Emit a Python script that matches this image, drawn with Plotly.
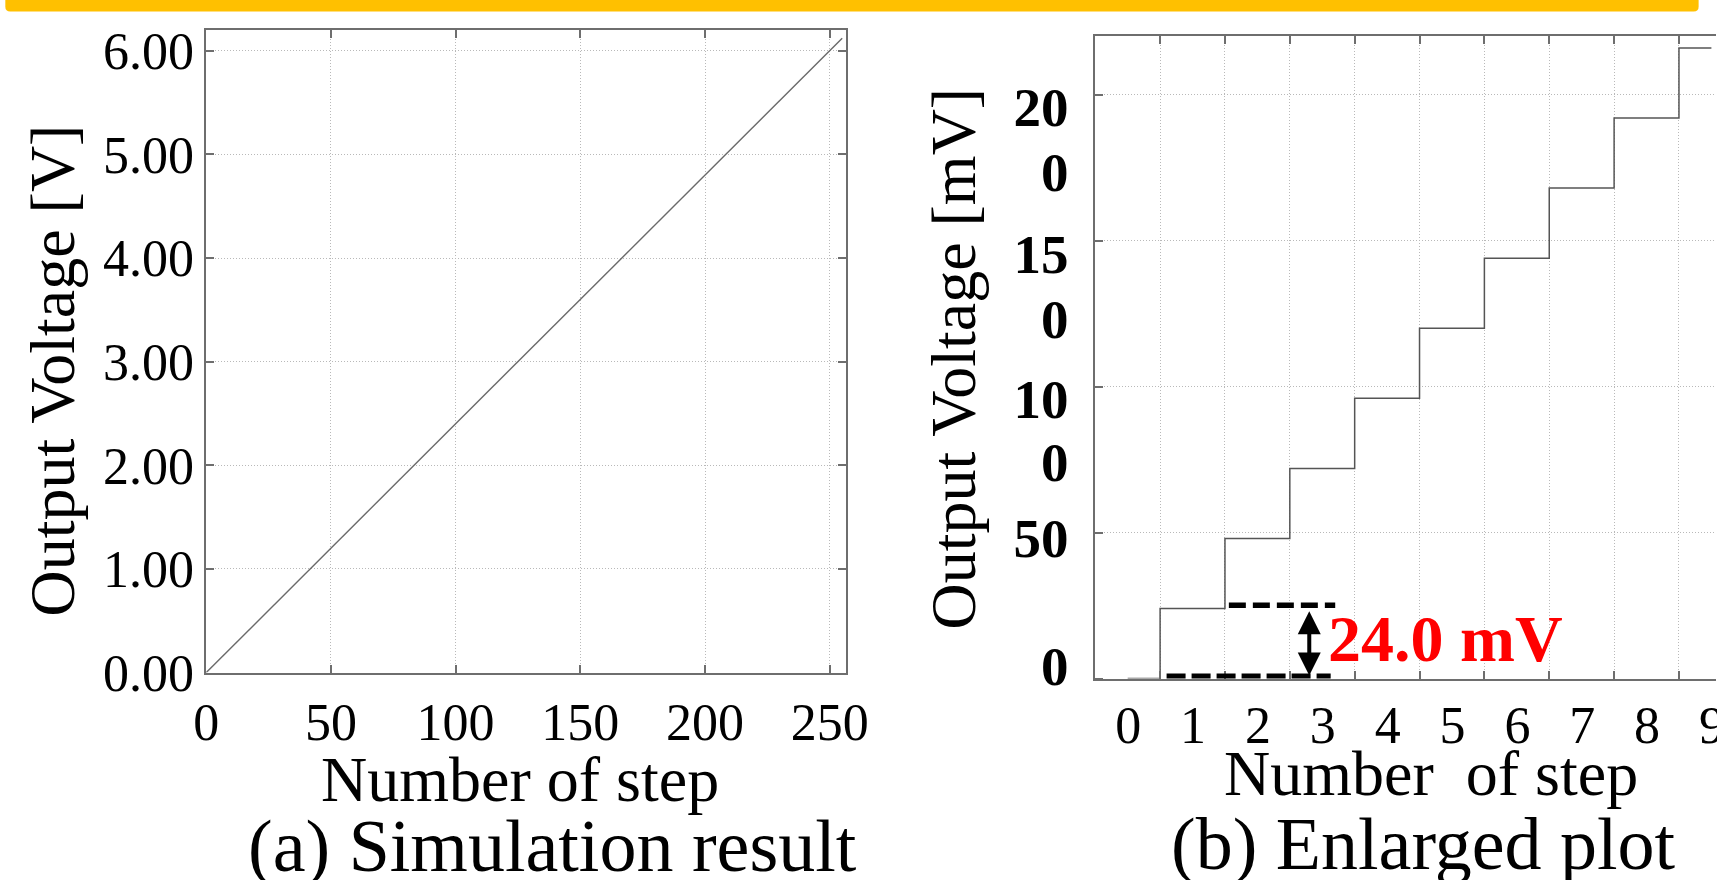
import plotly.graph_objects as go

# Measured mapping from page pixels to the photographed picture:
#   picture_x = SX * page_x + CX ,  picture_y = SY * page_y + CY
SX, CX = 0.982, 10.7
SY, CY = 0.960, 7.0
FW, FH = 1738, 910           # figure size in page pixels (figure at page origin)
FS = 1.03                    # font compensation for the photo shrink
SERIF = "Liberation Serif, Times New Roman, serif"


def fx(X):
    return ((X - CX) / SX) / FW


def fy(Y):
    return 1 - ((Y - CY) / SY) / FH


# ---------------- data ----------------
# (a) Simulation result: full-scale ramp of the output voltage
sim_steps = [0, 255]
sim_volts = [0.00, 6.12]
sim_xticks = [0, 50, 100, 150, 200, 250]
sim_yticks = [0, 1, 2, 3, 4, 5, 6]
sim_yticktext = ["0.00", "1.00", "2.00", "3.00", "4.00", "5.00", "6.00"]

# (b) Enlarged plot: first steps of the staircase (mV)
enl_steps = [0, 1, 2, 3, 4, 5, 6, 7, 8, 9]
enl_mv = [0, 24, 48, 72, 96, 120, 144, 168, 192, 216]
enl_xticktext = ["0", "1", "2", "3", "4", "5", "6", "7", "8", "9"]
enl_xgrid = [-0.5, 0.5, 1.5, 2.5, 3.5, 4.5, 5.5, 6.5, 7.5, 8.5]
enl_ygrid = [0, 50, 100, 150, 200]
enl_ylabel_pos = [4.3, 48.2, 74.2, 95.8, 123.4, 145.5, 173.7, 195.8]
enl_ylabel_text = ["0", "50", "0", "10", "0", "15", "0", "20"]

# LSB annotation (data coordinates of panel b)
lsb_label = "24.0 mV"
lsb_top_mv, lsb_bot_mv = 25.1, 0.8
lsb_top_x = [1.56, 3.20]
lsb_bot_x = [0.60, 3.13]
lsb_arrow_x = 2.80
lsb_arrow_y = [23.6, 1.1]
lsb_text_x, lsb_text_y = 3.06, 13.8

# ---------------- style ----------------
AXC = "#6e6e6e"
GRIDC = "#b9b9b9"
GRIDDASH = "1px,2px"

fig = go.Figure()

fig.add_trace(go.Scatter(
    x=sim_steps, y=sim_volts, mode="lines",
    line=dict(color="#6a6a6a", width=1.4),
    xaxis="x", yaxis="y", hoverinfo="skip", showlegend=False))

fig.add_trace(go.Scatter(
    x=enl_steps, y=enl_mv, mode="lines", line_shape="hvh",
    line=dict(color="#555555", width=1.5),
    xaxis="x2", yaxis="y2", hoverinfo="skip", showlegend=False))

common = dict(showline=True, linecolor=AXC, linewidth=1.6, zeroline=False,
              ticks="inside", ticklen=8, tickwidth=1.5, tickcolor=AXC)

# panel b: 65 picture px per step, left axis line at x = -0.5
R_LEFT, R_RIGHT = 1095.3, 1717.0
R_PX_PER_STEP = 65.0
r_xmax = -0.5 + (R_RIGHT - R_LEFT) / R_PX_PER_STEP

tick_font = dict(family=SERIF, size=round(50 * FS), color="black")

fig.update_layout(
    width=FW, height=FH, autosize=False,
    margin=dict(l=0, r=0, t=0, b=0),
    paper_bgcolor="white", plot_bgcolor="white",
    showlegend=False,
    xaxis=dict(domain=[fx(204.3), fx(845.7)], anchor="y",
               range=[0, 256.6], tickmode="array", tickvals=sim_xticks,
               mirror="allticks", showgrid=True, gridcolor=GRIDC,
               griddash=GRIDDASH, gridwidth=1, ticklabelstandoff=3,
               tickfont=tick_font, **common),
    yaxis=dict(domain=[fy(672.3), fy(30.3)], anchor="x",
               range=[0, 6.197], tickmode="array", tickvals=sim_yticks,
               ticktext=sim_yticktext,
               mirror="allticks", showgrid=True, gridcolor=GRIDC,
               griddash=GRIDDASH, gridwidth=1,
               tickfont=tick_font, **common),
    xaxis2=dict(domain=[fx(R_LEFT), min(1.0, fx(R_RIGHT))], anchor="y2",
                range=[-0.5, r_xmax], tickmode="array", tickvals=enl_xgrid,
                ticktext=enl_xticktext,
                ticklabelshift=int(round(R_PX_PER_STEP / 2 / SX)),
                showgrid=True, gridcolor=GRIDC, griddash=GRIDDASH, gridwidth=1,
                mirror="allticks", tickfont=tick_font, **common),
    yaxis2=dict(domain=[fy(678.3), fy(36.0)], anchor="x2",
                range=[0, 220.1], tickmode="array", tickvals=enl_ylabel_pos,
                ticktext=enl_ylabel_text, showgrid=False,
                showline=True, linecolor=AXC, linewidth=1.6, zeroline=False,
                ticks="", mirror=False, ticklabelstandoff=14,
                minor=dict(tickmode="array", tickvals=enl_ygrid, showgrid=True,
                           gridcolor=GRIDC, griddash=GRIDDASH, gridwidth=1,
                           ticks="inside", ticklen=8, tickwidth=1.5,
                           tickcolor=AXC),
                tickfont=dict(family=SERIF, size=round(53 * FS),
                              color="black", weight="bold")),
)

# top yellow banner with rounded lower corners
x0, x1 = fx(3), fx(1700)
yb = fy(11.5)
rx, ry = 5 / FW, 5 / FH
banner = (f"M {x0},1.05 L {x0},{yb + ry} Q {x0},{yb} {x0 + rx},{yb} "
          f"L {x1 - rx},{yb} Q {x1},{yb} {x1},{yb + ry} L {x1},1.05 Z")
fig.add_shape(type="path", path=banner, xref="paper", yref="paper",
              fillcolor="#FFC000", line=dict(width=0), layer="above")

# dashed LSB guide lines
fig.add_shape(type="line", xref="x2", yref="y2",
              x0=lsb_top_x[0], x1=lsb_top_x[1], y0=lsb_top_mv, y1=lsb_top_mv,
              line=dict(color="black", width=5.6, dash="17px,7px"))
fig.add_shape(type="line", xref="x2", yref="y2",
              x0=lsb_bot_x[0], x1=lsb_bot_x[1], y0=lsb_bot_mv, y1=lsb_bot_mv,
              line=dict(color="black", width=5.6, dash="19px,6px"))

# double-headed arrow
fig.add_annotation(xref="x2", yref="y2", axref="x2", ayref="y2",
                   x=lsb_arrow_x, y=lsb_arrow_y[1],
                   ax=lsb_arrow_x, ay=lsb_arrow_y[0],
                   text="", showarrow=True, arrowside="end+start",
                   arrowhead=2, startarrowhead=2, arrowwidth=4,
                   arrowsize=1.15, startarrowsize=1.15, arrowcolor="black")

fig.add_annotation(xref="x2", yref="y2", x=lsb_text_x, y=lsb_text_y,
                   xanchor="left", yanchor="middle", showarrow=False,
                   text=lsb_label,
                   font=dict(family=SERIF, size=round(64 * FS),
                             color="#FF0000", weight="bold"))


# titles and captions (positions given in picture pixels)
def ptext(txt, px, py, size, angle=0):
    fig.add_annotation(xref="paper", yref="paper", x=fx(px), y=fy(py),
                       xanchor="center", yanchor="middle", showarrow=False,
                       text=txt, textangle=angle,
                       font=dict(family=SERIF, size=round(size * FS),
                                 color="black"))


ptext("Output Voltage [V]", 50, 370, 62, angle=-90)
ptext("Number of step", 519, 779, 62)
ptext("(a) Simulation result", 551, 846, 72)

ptext("Output Voltage [mV]", 953, 358, 62, angle=-90)
ptext("Number  of step", 1432, 773, 62)
ptext("(b) Enlarged plot", 1424, 844, 72)

fig.write_html(
    "out.html",
    config={"displayModeBar": False},
    post_script=("document.documentElement.style.margin='0';"
                 "document.body.style.margin='0';"
                 "document.body.style.padding='0';"
                 "document.body.style.overflow='hidden';"),
)
